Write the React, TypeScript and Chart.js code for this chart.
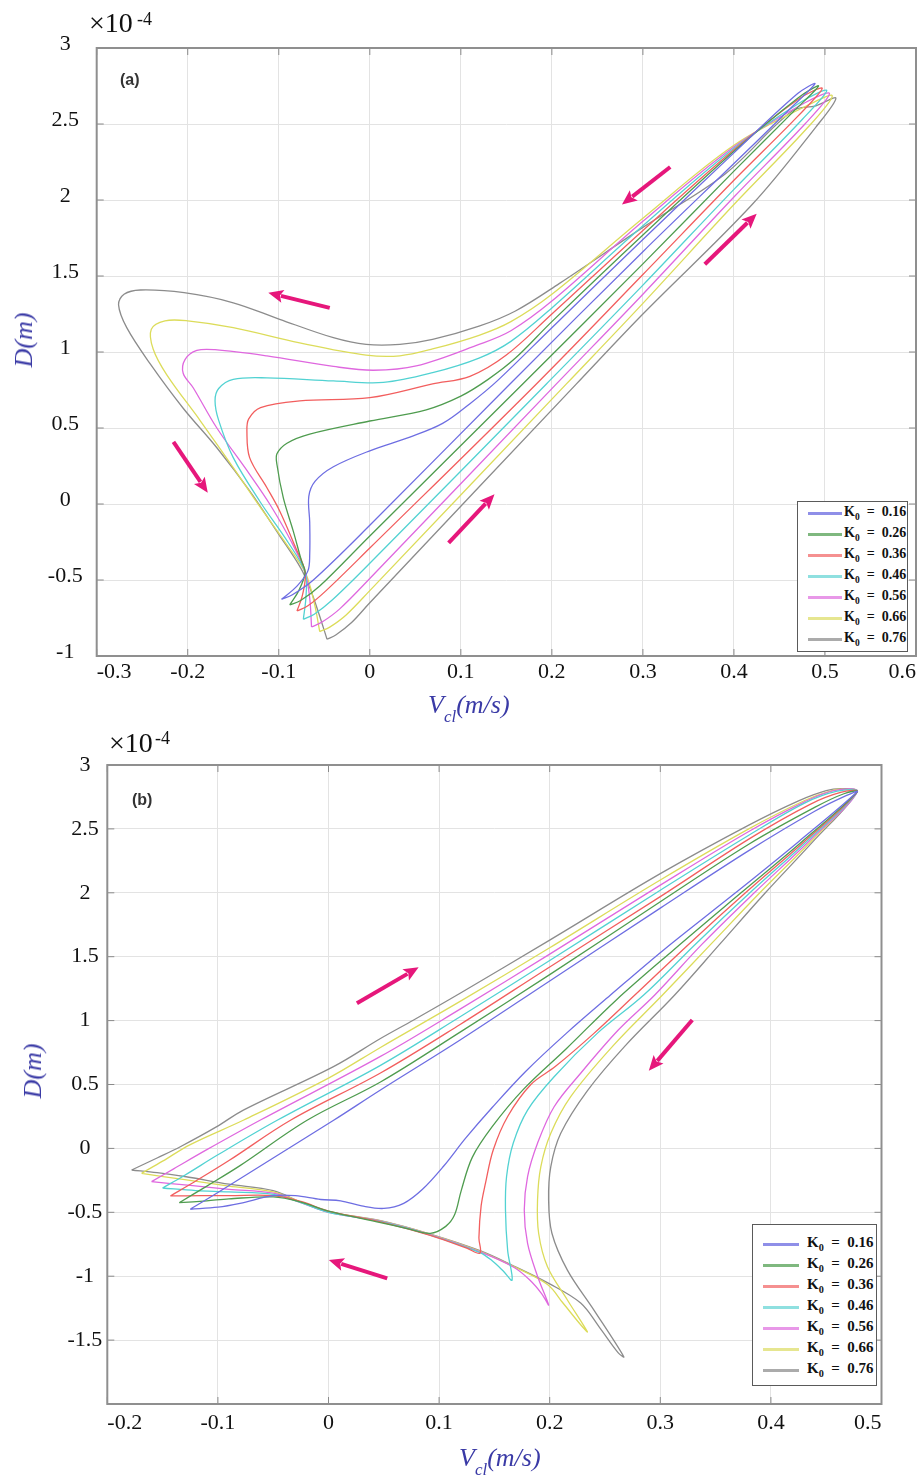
import React, { useEffect, useRef } from 'react';
import { Chart, registerables } from 'chart.js';

Chart.register(...registerables);

type Pt = [number, number];
type Arrow = [number, number, number, number]; // tail x, tail y, head x, head y

const K_VALUES = ['0.16', '0.26', '0.36', '0.46', '0.56', '0.66', '0.76'];
const SERIES_COLORS = ['#6e6ee2', '#4f9c4f', '#f25e5e', '#52d2d2', '#df68df', '#dcdc5a', '#8c8c8c'];
const LEGEND_COLORS = ['#8f8fe8', '#7fb87f', '#f59090', '#8fe0e0', '#e898e8', '#e6e690', '#ababab'];

// ---------- Panel (a) ----------
const A_X_TICKS = [-0.3, -0.2, -0.1, 0, 0.1, 0.2, 0.3, 0.4, 0.5, 0.6];
const A_Y_TICKS = [-1, -0.5, 0, 0.5, 1, 1.5, 2, 2.5, 3];

const A_K016: Pt[] = [
  [-0.097, -0.627], [-0.085, -0.597], [-0.062, -0.5], [0.0, -0.14], [0.154, 0.79], [0.3, 1.66], [0.4, 2.24], [0.46, 2.59], [0.489, 2.765],
  [0.47, 2.7], [0.4, 2.31], [0.3, 1.74], [0.2, 1.16], [0.14, 0.81], [0.11, 0.66], [0.08, 0.53], [0.044, 0.44], [0.0, 0.35], [-0.04, 0.245],
  [-0.06, 0.15], [-0.067, 0.05], [-0.066, -0.12], [-0.066, -0.33], [-0.068, -0.44], [-0.08, -0.54], [-0.097, -0.627],
];
const A_K026: Pt[] = [
  [-0.088, -0.664], [-0.076, -0.635], [-0.055, -0.54], [0.0, -0.21], [0.168, 0.79], [0.3, 1.58], [0.4, 2.19], [0.465, 2.58], [0.493, 2.75],
  [0.47, 2.67], [0.4, 2.32], [0.3, 1.77], [0.2, 1.2], [0.16, 0.96], [0.13, 0.82], [0.1, 0.71], [0.062, 0.62], [0.0, 0.546], [-0.066, 0.46],
  [-0.091, 0.4], [-0.102, 0.33], [-0.102, 0.26], [-0.095, 0.04], [-0.084, -0.18], [-0.075, -0.375], [-0.071, -0.45], [-0.078, -0.57], [-0.088, -0.664],
];
const A_K036: Pt[] = [
  [-0.08, -0.704], [-0.068, -0.67], [-0.048, -0.57], [0.0, -0.29], [0.183, 0.79], [0.3, 1.51], [0.4, 2.13], [0.47, 2.55], [0.497, 2.735],
  [0.47, 2.66], [0.4, 2.33], [0.3, 1.8], [0.2, 1.25], [0.15, 0.98], [0.11, 0.84], [0.069, 0.79], [0.0, 0.7], [-0.077, 0.678], [-0.12, 0.634],
  [-0.133, 0.56], [-0.135, 0.48], [-0.132, 0.305], [-0.113, 0.107], [-0.099, -0.046], [-0.082, -0.28], [-0.071, -0.45], [-0.074, -0.6], [-0.08, -0.704],
];
const A_K046: Pt[] = [
  [-0.073, -0.759], [-0.061, -0.725], [-0.041, -0.63], [0.0, -0.39], [0.194, 0.79], [0.3, 1.44], [0.4, 2.07], [0.475, 2.53], [0.502, 2.72],
  [0.475, 2.65], [0.4, 2.34], [0.3, 1.83], [0.2, 1.29], [0.155, 1.07], [0.12, 0.96], [0.069, 0.864], [0.015, 0.8], [-0.04, 0.81], [-0.113, 0.83],
  [-0.15, 0.82], [-0.166, 0.76], [-0.17, 0.68], [-0.166, 0.55], [-0.15, 0.305], [-0.12, 0.01], [-0.09, -0.25], [-0.071, -0.45], [-0.07, -0.6], [-0.073, -0.759],
];
const A_K056: Pt[] = [
  [-0.064, -0.809], [-0.052, -0.775], [-0.033, -0.69], [0.0, -0.49], [0.205, 0.79], [0.3, 1.38], [0.4, 2.02], [0.478, 2.5], [0.505, 2.7],
  [0.478, 2.64], [0.4, 2.35], [0.3, 1.86], [0.2, 1.335], [0.155, 1.14], [0.12, 1.05], [0.051, 0.908], [0.004, 0.88], [-0.04, 0.905], [-0.113, 0.974],
  [-0.17, 1.015], [-0.19, 1.01], [-0.203, 0.95], [-0.205, 0.86], [-0.194, 0.765], [-0.168, 0.5], [-0.132, 0.195], [-0.11, 0.0],
  [-0.086, -0.25], [-0.071, -0.45], [-0.066, -0.62], [-0.064, -0.809],
];
const A_K066: Pt[] = [
  [-0.055, -0.84], [-0.044, -0.81], [-0.026, -0.73], [0.0, -0.57], [0.216, 0.79], [0.3, 1.32], [0.4, 1.97], [0.48, 2.47], [0.508, 2.685],
  [0.48, 2.62], [0.4, 2.36], [0.3, 1.88], [0.2, 1.38], [0.155, 1.2], [0.12, 1.11], [0.069, 1.02], [0.033, 0.975], [-0.004, 0.98], [-0.077, 1.06],
  [-0.15, 1.16], [-0.2, 1.205], [-0.225, 1.205], [-0.24, 1.15], [-0.238, 1.02], [-0.223, 0.85], [-0.186, 0.546], [-0.15, 0.24],
  [-0.124, 0.01], [-0.092, -0.26], [-0.071, -0.45], [-0.061, -0.65], [-0.055, -0.84],
];
const A_K076: Pt[] = [
  [-0.047, -0.89], [-0.037, -0.86], [-0.02, -0.78], [0.0, -0.65], [0.227, 0.79], [0.3, 1.25], [0.42, 1.97], [0.49, 2.48], [0.512, 2.67],
  [0.49, 2.62], [0.464, 2.585], [0.39, 2.17], [0.3, 1.82], [0.208, 1.45], [0.16, 1.27], [0.12, 1.17], [0.069, 1.083], [0.033, 1.05], [-0.004, 1.05],
  [-0.04, 1.094], [-0.099, 1.215], [-0.15, 1.324], [-0.204, 1.39], [-0.252, 1.408], [-0.27, 1.38], [-0.276, 1.31], [-0.267, 1.16],
  [-0.241, 0.92], [-0.205, 0.63], [-0.168, 0.37], [-0.132, 0.086], [-0.1, -0.2], [-0.076, -0.42], [-0.066, -0.55], [-0.056, -0.72], [-0.047, -0.89],
];
const A_ARROWS: Arrow[] = [
  [0.33, 2.217, 0.277, 1.97],
  [0.368, 1.577, 0.425, 1.91],
  [-0.044, 1.29, -0.1115, 1.39],
  [-0.2157, 0.408, -0.178, 0.074],
  [0.0866, -0.255, 0.137, 0.064],
];

// ---------- Panel (b) ----------
const B_X_TICKS = [-0.2, -0.1, 0, 0.1, 0.2, 0.3, 0.4, 0.5];
const B_Y_TICKS = [-1.5, -1, -0.5, 0, 0.5, 1, 1.5, 2, 2.5, 3];

const B_K016: Pt[] = [
  [-0.125, -0.476], [-0.1, -0.345], [-0.05, -0.075], [0.005, 0.222], [0.047, 0.457], [0.119, 0.848], [0.2, 1.31], [0.3, 1.88],
  [0.38, 2.33], [0.44, 2.64], [0.468, 2.76], [0.478, 2.79],
  [0.425, 2.4], [0.368, 2.0], [0.303, 1.553], [0.255, 1.2], [0.215, 0.9], [0.178, 0.6], [0.148, 0.32], [0.124, 0.08],
  [0.104, -0.14], [0.085, -0.32], [0.068, -0.43], [0.05, -0.47], [0.03, -0.45], [0.011, -0.41], [-0.007, -0.4],
  [-0.03, -0.37], [-0.05, -0.37], [-0.08, -0.43], [-0.1, -0.46], [-0.125, -0.476],
];
const B_K026: Pt[] = [
  [-0.135, -0.425], [-0.11, -0.295], [-0.08, -0.135], [-0.019, 0.222], [0.047, 0.52], [0.119, 0.91], [0.2, 1.36], [0.3, 1.93],
  [0.38, 2.38], [0.44, 2.67], [0.466, 2.775], [0.478, 2.79],
  [0.428, 2.4], [0.373, 2.0], [0.312, 1.553], [0.26, 1.16], [0.215, 0.78], [0.176, 0.46], [0.148, 0.17],
  [0.13, -0.07], [0.12, -0.33], [0.114, -0.52], [0.106, -0.61], [0.092, -0.665],
  [0.07, -0.625], [0.047, -0.58], [0.0, -0.49], [-0.025, -0.42], [-0.05, -0.38], [-0.09, -0.395], [-0.11, -0.41], [-0.135, -0.425],
];
const B_K036: Pt[] = [
  [-0.143, -0.372], [-0.12, -0.255], [-0.09, -0.095], [-0.034, 0.222], [0.047, 0.59], [0.119, 0.97], [0.2, 1.42], [0.3, 1.97],
  [0.38, 2.42], [0.435, 2.69], [0.463, 2.785], [0.478, 2.79],
  [0.43, 2.4], [0.377, 2.0], [0.326, 1.6], [0.277, 1.2], [0.24, 0.9], [0.205, 0.64], [0.183, 0.5], [0.162, 0.25],
  [0.149, -0.01], [0.142, -0.27], [0.138, -0.45], [0.136, -0.7], [0.137, -0.82],
  [0.125, -0.78], [0.092, -0.68], [0.047, -0.575], [0.0, -0.49], [-0.025, -0.415], [-0.05, -0.37], [-0.09, -0.37], [-0.115, -0.37], [-0.143, -0.372],
];
const B_K046: Pt[] = [
  [-0.15, -0.31], [-0.13, -0.21], [-0.1, -0.05], [-0.046, 0.222], [0.047, 0.65], [0.119, 1.03], [0.2, 1.47], [0.3, 2.02],
  [0.38, 2.45], [0.43, 2.7], [0.46, 2.795], [0.478, 2.79],
  [0.432, 2.4], [0.381, 2.0], [0.332, 1.6], [0.285, 1.2], [0.243, 0.9], [0.204, 0.561], [0.18, 0.3],
  [0.167, 0.04], [0.161, -0.22], [0.16, -0.48], [0.162, -0.8], [0.166, -1.03],
  [0.158, -0.96], [0.148, -0.88], [0.137, -0.815], [0.092, -0.678], [0.047, -0.572], [0.0, -0.5], [-0.025, -0.425],
  [-0.05, -0.36], [-0.09, -0.34], [-0.12, -0.33], [-0.15, -0.31],
];
const B_K056: Pt[] = [
  [-0.16, -0.26], [-0.14, -0.16], [-0.11, -0.01], [-0.0615, 0.222], [0.047, 0.72], [0.119, 1.09], [0.2, 1.52], [0.3, 2.06],
  [0.38, 2.48], [0.43, 2.71], [0.457, 2.8], [0.478, 2.79],
  [0.434, 2.4], [0.385, 2.0], [0.338, 1.6], [0.295, 1.2], [0.262, 0.926], [0.228, 0.588], [0.204, 0.326],
  [0.189, 0.04], [0.18, -0.22], [0.177, -0.482], [0.18, -0.743], [0.189, -1.0], [0.199, -1.225],
  [0.193, -1.14], [0.182, -1.03], [0.1675, -0.93], [0.137, -0.81], [0.092, -0.675], [0.047, -0.57], [0.0, -0.5],
  [-0.025, -0.425], [-0.05, -0.35], [-0.09, -0.32], [-0.125, -0.29], [-0.16, -0.26],
];
const B_K066: Pt[] = [
  [-0.169, -0.195], [-0.15, -0.1], [-0.125, 0.03], [-0.0766, 0.222], [0.0, 0.55], [0.047, 0.79], [0.119, 1.15], [0.2, 1.57],
  [0.3, 2.1], [0.38, 2.5], [0.43, 2.72], [0.455, 2.8], [0.467, 2.81], [0.478, 2.79],
  [0.436, 2.4], [0.39, 2.0], [0.346, 1.6], [0.302, 1.2], [0.257, 0.8], [0.219, 0.405],
  [0.201, 0.118], [0.192, -0.143], [0.189, -0.404], [0.19, -0.664], [0.198, -0.926], [0.216, -1.186], [0.234, -1.434],
  [0.228, -1.38], [0.212, -1.21], [0.198, -1.065], [0.1675, -0.925], [0.137, -0.805], [0.092, -0.672], [0.047, -0.568],
  [0.0, -0.497], [-0.025, -0.42], [-0.05, -0.34], [-0.09, -0.295], [-0.13, -0.245], [-0.169, -0.195],
];
const B_K076: Pt[] = [
  [-0.178, -0.169], [-0.155, -0.075], [-0.134, 0.013], [-0.101, 0.17], [-0.077, 0.3], [0.0045, 0.64], [0.047, 0.86], [0.077, 1.005],
  [0.119, 1.214], [0.2, 1.63], [0.3, 2.15], [0.38, 2.53], [0.425, 2.72], [0.45, 2.8], [0.465, 2.815], [0.478, 2.79],
  [0.438, 2.4], [0.395, 2.0], [0.354, 1.6], [0.313, 1.2], [0.268, 0.8], [0.234, 0.45],
  [0.21, 0.118], [0.201, -0.143], [0.199, -0.404], [0.202, -0.664], [0.216, -0.952], [0.24, -1.265], [0.267, -1.63],
  [0.262, -1.6], [0.245, -1.4], [0.228, -1.21], [0.2, -1.06], [0.1675, -0.92], [0.137, -0.8], [0.092, -0.67], [0.047, -0.565],
  [0.0, -0.495], [-0.025, -0.42], [-0.05, -0.33], [-0.09, -0.28], [-0.13, -0.22], [-0.155, -0.19], [-0.178, -0.169],
];
const B_ARROWS: Arrow[] = [
  [0.0257, 1.135, 0.0815, 1.417],
  [0.3289, 1.005, 0.2896, 0.608],
  [0.0531, -1.017, 0.0003, -0.873],
];

const A_LOOPS = [A_K016, A_K026, A_K036, A_K046, A_K056, A_K066, A_K076];
const B_LOOPS = [B_K016, B_K026, B_K036, B_K046, B_K056, B_K066, B_K076];

// ---------- Chart building ----------
const SERIF = '"Liberation Serif", "Times New Roman", serif';
const AXIS_BLUE = '#3a3aa6';
const ARROW_COLOR = '#e6177b';

interface PanelCfg {
  width: number;
  height: number;
  area: { left: number; top: number; right: number; bottom: number };
  xMin: number; xMax: number; yMin: number; yMax: number;
  xTicks: number[]; yTicks: number[];
  loops: Pt[][];
  arrows: Arrow[];
  xLabelPad: number; yLabelPad: number; yLabelOffset: number;
}

const fmt = (v: number | string) => {
  const n = Math.round(Number(v) * 100) / 100;
  return String(n === 0 ? 0 : n);
};

function makeChart(canvas: HTMLCanvasElement, p: PanelCfg) {
  const frame = {
    id: 'frame',
    afterDatasetsDraw(chart: any) {
      const { ctx, chartArea: a, scales } = chart;
      ctx.save();
      ctx.strokeStyle = '#8a8a8a';
      ctx.lineWidth = 1;
      const tl = 7;
      ctx.beginPath();
      p.xTicks.forEach((v) => {
        const x = scales.x.getPixelForValue(v);
        ctx.moveTo(x, a.bottom); ctx.lineTo(x, a.bottom - tl);
        ctx.moveTo(x, a.top); ctx.lineTo(x, a.top + tl);
      });
      p.yTicks.forEach((v) => {
        const y = scales.y.getPixelForValue(v);
        ctx.moveTo(a.left, y); ctx.lineTo(a.left + tl, y);
        ctx.moveTo(a.right, y); ctx.lineTo(a.right - tl, y);
      });
      ctx.stroke();
      ctx.lineWidth = 2;
      ctx.strokeStyle = '#8f8f8f';
      ctx.strokeRect(a.left, a.top, a.right - a.left, a.bottom - a.top);
      ctx.restore();
    },
  };
  const arrows = {
    id: 'arrows',
    afterDraw(chart: any) {
      const { ctx, scales } = chart;
      ctx.save();
      ctx.fillStyle = ARROW_COLOR;
      ctx.strokeStyle = ARROW_COLOR;
      p.arrows.forEach(([x1, y1, x2, y2]) => {
        const tx = scales.x.getPixelForValue(x1);
        const ty = scales.y.getPixelForValue(y1);
        const hx = scales.x.getPixelForValue(x2);
        const hy = scales.y.getPixelForValue(y2);
        const len = Math.hypot(hx - tx, hy - ty);
        const ux = (hx - tx) / len, uy = (hy - ty) / len;
        const px = -uy, py = ux;
        const L = 15, W = 6.5;
        const bx = hx - ux * L, by = hy - uy * L;
        ctx.lineWidth = 4;
        ctx.lineCap = 'butt';
        ctx.beginPath();
        ctx.moveTo(tx, ty);
        ctx.lineTo(bx + ux * 2, by + uy * 2);
        ctx.stroke();
        ctx.beginPath();
        ctx.moveTo(hx, hy);
        ctx.lineTo(bx + px * W, by + py * W);
        ctx.lineTo(bx + ux * 3, by + uy * 3);
        ctx.lineTo(bx - px * W, by - py * W);
        ctx.closePath();
        ctx.fill();
      });
      ctx.restore();
    },
  };

  return new Chart(canvas, {
    type: 'scatter',
    data: {
      datasets: p.loops.map((pts, i) => ({
        label: 'K0 = ' + K_VALUES[i],
        data: pts.map(([x, y]) => ({ x, y })),
        showLine: true,
        borderColor: SERIES_COLORS[i],
        backgroundColor: SERIES_COLORS[i],
        borderWidth: 1.3,
        pointRadius: 0,
        pointHoverRadius: 0,
        tension: 0.35,
        fill: false,
      })),
    },
    options: {
      responsive: false,
      animation: false,
      devicePixelRatio: 1,
      events: [],
      layout: { padding: { left: 0, top: p.area.top, right: p.width - p.area.right, bottom: 0 } },
      plugins: { legend: { display: false }, tooltip: { enabled: false }, title: { display: false } },
      scales: {
        x: {
          type: 'linear',
          min: p.xMin,
          max: p.xMax,
          afterBuildTicks: (s: any) => { s.ticks = p.xTicks.map((v) => ({ value: v })); },
          afterFit: (s: any) => { s.height = p.height - p.area.bottom; },
          grid: { color: '#e3e3e3', lineWidth: 1, drawTicks: false },
          border: { display: false },
          ticks: {
            font: { family: SERIF, size: 22 },
            color: '#111',
            padding: p.xLabelPad,
            align: 'inner',
            maxRotation: 0,
            autoSkip: false,
            callback: (v: any) => fmt(v),
          },
        },
        y: {
          type: 'linear',
          min: p.yMin,
          max: p.yMax,
          afterBuildTicks: (s: any) => { s.ticks = p.yTicks.map((v) => ({ value: v })); },
          afterFit: (s: any) => { s.width = p.area.left; },
          grid: { color: '#e3e3e3', lineWidth: 1, drawTicks: false },
          border: { display: false },
          ticks: {
            font: { family: SERIF, size: 22 },
            color: '#111',
            padding: p.yLabelPad,
            crossAlign: 'center',
            labelOffset: p.yLabelOffset,
            autoSkip: false,
            callback: (v: any) => fmt(v),
          },
        },
      },
    } as any,
    plugins: [frame, arrows],
  });
}

const PANEL_A: PanelCfg = {
  width: 919, height: 730,
  area: { left: 96.7, top: 48, right: 917, bottom: 656 },
  xMin: -0.3, xMax: 0.6, yMin: -1, yMax: 3,
  xTicks: A_X_TICKS, yTicks: A_Y_TICKS,
  loops: A_LOOPS, arrows: A_ARROWS,
  xLabelPad: 3, yLabelPad: 14, yLabelOffset: -4,
};
const PANEL_B: PanelCfg = {
  width: 919, height: 753,
  area: { left: 107.3, top: 35, right: 881.5, bottom: 674 },
  xMin: -0.2, xMax: 0.5, yMin: -2, yMax: 3,
  xTicks: B_X_TICKS, yTicks: B_Y_TICKS,
  loops: B_LOOPS, arrows: B_ARROWS,
  xLabelPad: 6, yLabelPad: 5, yLabelOffset: 0,
};

// ---------- HTML text pieces ----------
const abs = (left: number, top: number, extra: React.CSSProperties = {}): React.CSSProperties => ({
  position: 'absolute', left, top, lineHeight: 1, whiteSpace: 'nowrap', margin: 0, ...extra,
});

function Exponent({ left, top, supLeft, supTop }: { left: number; top: number; supLeft: number; supTop: number }) {
  return (
    <>
      <div style={abs(left, top, { fontFamily: SERIF, fontSize: 28, color: '#111' })}>×10</div>
      <div style={abs(supLeft, supTop, { fontFamily: SERIF, fontSize: 18, color: '#111' })}>-4</div>
    </>
  );
}

function XTitle({ left, top }: { left: number; top: number }) {
  return (
    <div style={abs(left, top, { fontFamily: SERIF, fontSize: 26, fontStyle: 'italic', color: AXIS_BLUE })}>
      V<span style={{ fontSize: 17, position: 'relative', top: 9 }}>cl</span>(m/s)
    </div>
  );
}

function YTitle({ cx, cy }: { cx: number; cy: number }) {
  return (
    <div
      style={abs(cx, cy, {
        fontFamily: SERIF, fontSize: 26, fontStyle: 'italic', color: AXIS_BLUE,
        transform: 'translate(-50%, -50%) rotate(-90deg)',
      })}
    >
      D(m)
    </div>
  );
}

function Legend({ left, top, width, height, rowY0, lineX, lineW, textX, fontSize, thick }: {
  left: number; top: number; width: number; height: number; rowY0: number; lineX: number; lineW: number; textX: number; fontSize: number; thick: number;
}) {
  return (
    <div style={{ position: 'absolute', left, top, width, height, boxSizing: 'border-box', border: '1.5px solid #5a5a5a', background: '#fff' }}>
      {K_VALUES.map((k, i) => {
        const cy = rowY0 + 21 * i;
        return (
          <React.Fragment key={k}>
            <div style={{ position: 'absolute', left: lineX, top: cy - thick / 2 + 1, width: lineW, height: thick, background: LEGEND_COLORS[i] }} />
            <div style={abs(textX, cy - fontSize * 0.55, { fontFamily: SERIF, fontWeight: 'bold', fontSize, color: '#111' })}>
              K<span style={{ fontSize: fontSize * 0.68, position: 'relative', top: 4 }}>0</span>
              {'\u2002=\u2002'}
              {k}
            </div>
          </React.Fragment>
        );
      })}
    </div>
  );
}

export default function App() {
  const refA = useRef<HTMLCanvasElement>(null);
  const refB = useRef<HTMLCanvasElement>(null);

  useEffect(() => {
    const a = makeChart(refA.current as HTMLCanvasElement, PANEL_A);
    const b = makeChart(refB.current as HTMLCanvasElement, PANEL_B);
    return () => {
      a.destroy();
      b.destroy();
    };
  }, []);

  return (
    <div style={{ position: 'absolute', left: 0, top: 0, width: 919, height: 1483, background: '#fff', overflow: 'hidden' }}>
      <canvas ref={refA} width={919} height={730} style={{ position: 'absolute', left: 0, top: 0, width: 919, height: 730 }} />
      <canvas ref={refB} width={919} height={753} style={{ position: 'absolute', left: 0, top: 730, width: 919, height: 753 }} />

      {/* panel (a) texts */}
      <Exponent left={89} top={8.5} supLeft={137} supTop={10} />
      <div style={abs(120, 72, { fontFamily: '"Liberation Sans", Arial, sans-serif', fontWeight: 'bold', fontSize: 16, color: '#333' })}>(a)</div>
      <XTitle left={428} top={692} />
      <YTitle cx={24} cy={340} />
      <Legend left={797} top={501} width={111} height={151} rowY0={10.7} lineX={10} lineW={34} textX={46} fontSize={14} thick={2.6} />

      {/* panel (b) texts */}
      <Exponent left={109} top={728.5} supLeft={155} supTop={729} />
      <div style={abs(132, 792, { fontFamily: '"Liberation Sans", Arial, sans-serif', fontWeight: 'bold', fontSize: 16, color: '#333' })}>(b)</div>
      <XTitle left={459} top={1445} />
      <YTitle cx={33} cy={1071} />
      <Legend left={752} top={1224} width={125} height={162} rowY0={18.7} lineX={10} lineW={36} textX={54} fontSize={15} thick={3.2} />
    </div>
  );
}
